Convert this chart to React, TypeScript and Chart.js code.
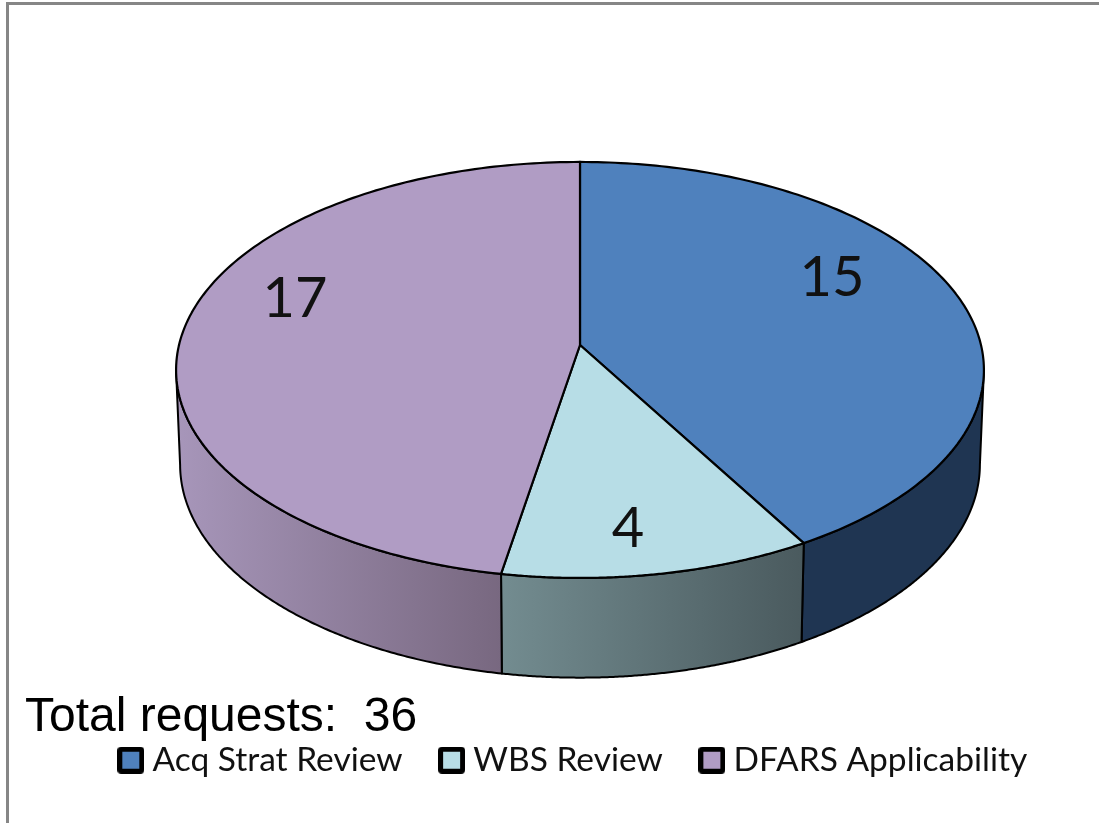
import React, { useEffect, useRef } from "react";
import { Chart, PieController, ArcElement, Legend } from "chart.js";

const categories = ["Acq Strat Review", "WBS Review", "DFARS Applicability"];
const requests = [15, 4, 17];
const faceColors = ["#4F81BD", "#B7DDE6", "#B09CC4"];
const wallStops = [
  ["#1F3552", "#1F3552"],
  ["#738C90", "#4A5A5E"],
  ["#A796BA", "#786880"],
];
const totalLabel = "Total requests:  36";
const labelAnchors = [
  [832, 278],
  [628, 529],
  [295, 299],
];

const topFace = { cx: 580, cy: 345, a: 401, b: 205 };
const bottomFace = { cx: 580, cy: 439, a: 397, b: 210 };
const tilt = 0.12;

function project(f: typeof topFace, theta: number) {
  const x = Math.sin(theta);
  const y = -Math.cos(theta);
  const d = 1 - tilt * y;
  return [f.cx + (f.a * x) / d, f.cy + (f.b * y) / d];
}

const WALL_FROM = (97 * Math.PI) / 180;
const WALL_TO = (263 * Math.PI) / 180;

(ArcElement.prototype as any).draw = function (ctx: CanvasRenderingContext2D) {
  const start = this.startAngle + Math.PI / 2;
  const end = this.endAngle + Math.PI / 2;
  const steps = 160;
  const index = this.$context.index;

  const a = Math.max(start, WALL_FROM);
  const b = Math.min(end, WALL_TO);
  ctx.save();
  ctx.lineJoin = "round";
  if (b > a) {
    ctx.beginPath();
    for (let i = 0; i <= steps; i++) {
      const p = project(topFace, a + ((b - a) * i) / steps);
      i === 0 ? ctx.moveTo(p[0], p[1]) : ctx.lineTo(p[0], p[1]);
    }
    for (let i = steps; i >= 0; i--) {
      const p = project(bottomFace, a + ((b - a) * i) / steps);
      ctx.lineTo(p[0], p[1]);
    }
    ctx.closePath();
    const left = project(topFace, b)[0];
    const right = project(topFace, a)[0];
    const g = ctx.createLinearGradient(left, 0, right, 0);
    g.addColorStop(0, wallStops[index][0]);
    g.addColorStop(1, wallStops[index][1]);
    ctx.fillStyle = g;
    ctx.fill();
    ctx.strokeStyle = "#000";
    ctx.lineWidth = 2;
    ctx.stroke();
  }
  ctx.beginPath();
  ctx.moveTo(topFace.cx, topFace.cy);
  for (let i = 0; i <= steps; i++) {
    const p = project(topFace, start + ((end - start) * i) / steps);
    ctx.lineTo(p[0], p[1]);
  }
  ctx.closePath();
  ctx.fillStyle = this.options.backgroundColor;
  ctx.fill();
  ctx.strokeStyle = "#000";
  ctx.lineWidth = 2.2;
  ctx.stroke();
  ctx.restore();
};

Chart.register(PieController, ArcElement, Legend);

function legendSwatch(color: string) {
  const c = document.createElement("canvas");
  c.width = 27;
  c.height = 27;
  const g = c.getContext("2d")!;
  g.fillStyle = "#000";
  g.beginPath();
  g.roundRect(0, 0, 27, 27, 4);
  g.fill();
  g.fillStyle = color;
  g.fillRect(5, 5, 17, 17);
  return c;
}

const valueLabels = {
  id: "valueLabels",
  afterDatasetsDraw(chart: any) {
    const ctx = chart.ctx;
    ctx.save();
    ctx.font = "56px Lato";
    ctx.fillStyle = "#111";
    ctx.textAlign = "center";
    ctx.textBaseline = "middle";
    chart.data.datasets[0].data.forEach((v: number, i: number) => {
      ctx.fillText(String(v), labelAnchors[i][0], labelAnchors[i][1]);
    });
    ctx.restore();
  },
};

export default function App() {
  const ref = useRef<HTMLCanvasElement>(null);
  useEffect(() => {
    const chart = new Chart(ref.current!, {
      type: "pie",
      data: {
        labels: categories,
        datasets: [{ data: requests, backgroundColor: faceColors }],
      },
      options: {
        animation: false,
        responsive: false,
        layout: { padding: { bottom: 36, left: 54 } },
        plugins: {
          tooltip: { enabled: false },
          legend: {
            position: "bottom",
            labels: {
              usePointStyle: true,
              boxWidth: 10,
              boxHeight: 10,
              padding: 44,
              color: "#111",
              font: { family: "Lato", size: 33.5 },
              generateLabels: () =>
                categories.map((text, i) => ({
                  text,
                  index: i,
                  fontColor: "#111",
                  pointStyle: legendSwatch(faceColors[i]),
                  hidden: false,
                })),
            },
          },
        },
      },
      plugins: [valueLabels],
    } as any);
    return () => chart.destroy();
  }, []);
  return (
    <div style={{ position: "absolute", left: 0, top: 0, width: 1099, height: 823, background: "#fff", overflow: "hidden" }}>
      <div style={{ position: "absolute", left: 6, top: 2, right: 0, height: 3, background: "#868686" }} />
      <div style={{ position: "absolute", left: 6, top: 2, bottom: 0, width: 3, background: "#868686" }} />
      <canvas ref={ref} width={1099} height={823} style={{ position: "absolute", left: 0, top: 0 }} />
      <div style={{ position: "absolute", left: 25, top: 688, font: "48px 'Liberation Sans'", lineHeight: "54px", color: "#000", whiteSpace: "pre" }}>
        {totalLabel}
      </div>
    </div>
  );
}
